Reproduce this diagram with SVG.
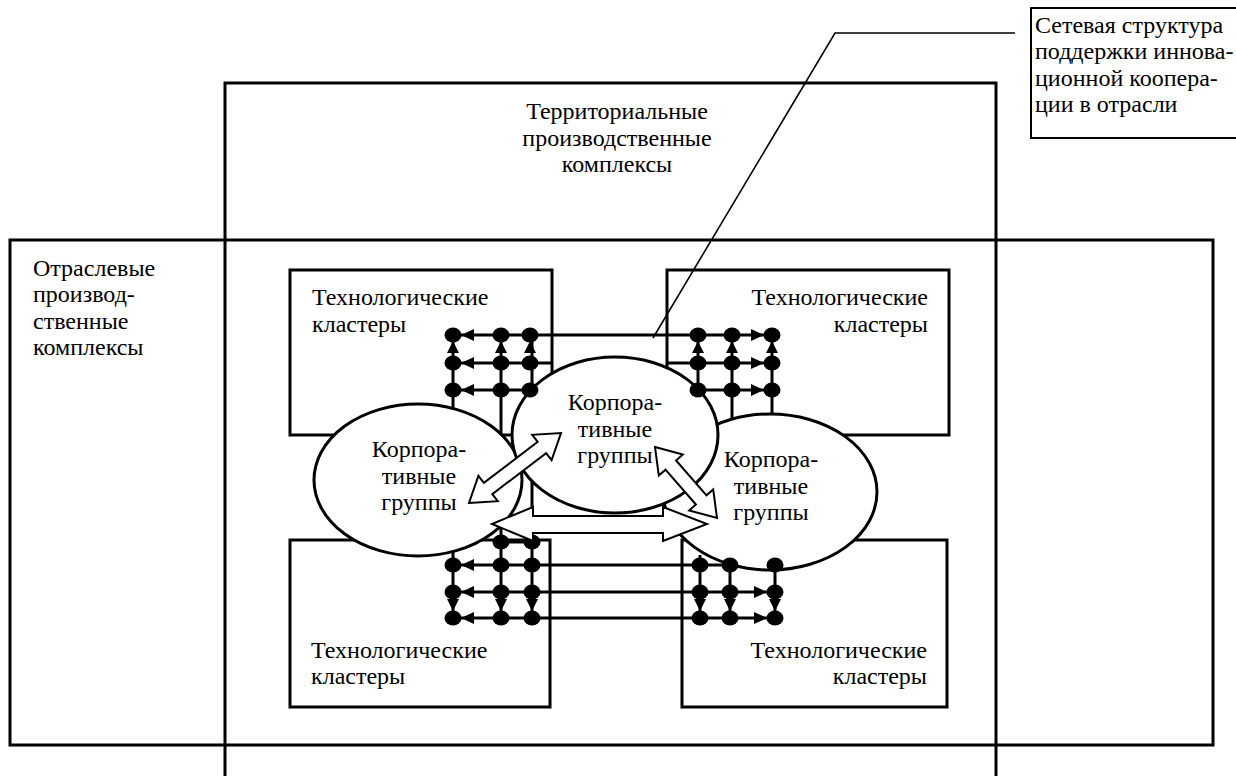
<svg xmlns="http://www.w3.org/2000/svg" width="1236" height="776" viewBox="0 0 1236 776">
<style>
.frame{fill:none;stroke:#000;stroke-width:3}
.clus{fill:none;stroke:#000;stroke-width:3}
.net{fill:none;stroke:#000;stroke-width:3}
.dot{fill:#000}
.ah{fill:#000}
.grp{fill:#fff;stroke:#000;stroke-width:3}
.dbl{fill:#fff;stroke:#000;stroke-width:2;stroke-linejoin:miter}
.lead{fill:none;stroke:#000;stroke-width:1.6}
.box{fill:#fff;stroke:#000;stroke-width:2}
text{font-family:"Liberation Serif","Times New Roman",serif;font-size:24px;fill:#000}
.c{text-anchor:middle}
.r{text-anchor:end}
</style>
<rect width="1236" height="776" fill="#fff"/>

<g id="territorial">
<path class="frame" d="M225,780 V83 H996 V780"/>
<text class="c" x="617" y="119">Территориальные</text>
<text class="c" x="617" y="146">производственные</text>
<text class="c" x="617" y="172">комплексы</text>
</g>

<g id="sectoral">
<rect class="frame" x="10" y="240" width="1203" height="505"/>
<text x="33" y="276">Отраслевые</text>
<text x="33" y="302">производ-</text>
<text x="33" y="329">ственные</text>
<text x="33" y="355">комплексы</text>
</g>

<g id="cluster-tl">
<rect class="clus" x="290" y="270" width="262" height="165"/>
<text x="312" y="305">Технологические</text>
<text x="312" y="332">кластеры</text>
</g>
<g id="cluster-tr">
<rect class="clus" x="667" y="270" width="282" height="165"/>
<text class="r" x="928" y="305">Технологические</text>
<text class="r" x="928" y="332">кластеры</text>
</g>
<g id="cluster-bl">
<rect class="clus" x="290" y="540" width="260" height="167"/>
<text x="311" y="658">Технологические</text>
<text x="311" y="684">кластеры</text>
</g>
<g id="cluster-br">
<rect class="clus" x="682" y="540" width="265" height="167"/>
<text class="r" x="927" y="658">Технологические</text>
<text class="r" x="927" y="684">кластеры</text>
</g>

<g id="connectors">
<path class="net" d="M453,335 H772 M453,363 H552 M453,390 H530 M667,363 H772 M698,390 H772
M453,335 V430 M501,335 V450 M532,335 V618 M698,335 V420 M732,335 V430 M772,335 V430
M664,440 V516
M453,565 H775 M453,592 H775 M453,618 H775
M453,545 V618 M501,520 V618 M501,542 H532
M700,555 V618 M730,555 V618 M775,555 V618"/>
</g>

<g id="group-left">
<ellipse class="grp" cx="418" cy="480" rx="104" ry="76"/>
<text class="c" x="419" y="457">Корпора-</text>
<text class="c" x="419" y="484">тивные</text>
<text class="c" x="419" y="510">группы</text>
</g>
<g id="group-right">
<ellipse class="grp" cx="770" cy="492" rx="107" ry="78"/>
<text class="c" x="771" y="467">Корпора-</text>
<text class="c" x="771" y="494">тивные</text>
<text class="c" x="771" y="520">группы</text>
</g>
<g id="group-center">
<ellipse class="grp" cx="615" cy="435" rx="103" ry="78"/>
<text class="c" x="615" y="410">Корпора-</text>
<text class="c" x="615" y="437">тивные</text>
<text class="c" x="615" y="463">группы</text>
</g>

<g id="network-nodes">
<g class="dot">
<ellipse cx="453" cy="335" rx="8.5" ry="7.5"/><ellipse cx="501" cy="335" rx="8.5" ry="7.5"/><ellipse cx="530" cy="335" rx="8.5" ry="7.5"/>
<ellipse cx="453" cy="363" rx="8.5" ry="7.5"/><ellipse cx="501" cy="363" rx="8.5" ry="7.5"/><ellipse cx="530" cy="363" rx="8.5" ry="7.5"/>
<ellipse cx="453" cy="390" rx="8.5" ry="7.5"/><ellipse cx="501" cy="390" rx="8.5" ry="7.5"/><ellipse cx="530" cy="390" rx="8.5" ry="7.5"/>
<ellipse cx="698" cy="335" rx="8.5" ry="7.5"/><ellipse cx="732" cy="335" rx="8.5" ry="7.5"/><ellipse cx="772" cy="335" rx="8.5" ry="7.5"/>
<ellipse cx="698" cy="363" rx="8.5" ry="7.5"/><ellipse cx="732" cy="363" rx="8.5" ry="7.5"/><ellipse cx="772" cy="363" rx="8.5" ry="7.5"/>
<ellipse cx="698" cy="390" rx="8.5" ry="7.5"/><ellipse cx="732" cy="390" rx="8.5" ry="7.5"/><ellipse cx="772" cy="390" rx="8.5" ry="7.5"/>
<ellipse cx="501" cy="542" rx="8.5" ry="7.5"/><ellipse cx="532" cy="542" rx="8.5" ry="7.5"/>
<ellipse cx="453" cy="565" rx="8.5" ry="7.5"/><ellipse cx="501" cy="565" rx="8.5" ry="7.5"/><ellipse cx="532" cy="565" rx="8.5" ry="7.5"/>
<ellipse cx="453" cy="592" rx="8.5" ry="7.5"/><ellipse cx="501" cy="592" rx="8.5" ry="7.5"/><ellipse cx="532" cy="592" rx="8.5" ry="7.5"/>
<ellipse cx="453" cy="618" rx="8.5" ry="7.5"/><ellipse cx="501" cy="618" rx="8.5" ry="7.5"/><ellipse cx="532" cy="618" rx="8.5" ry="7.5"/>
<ellipse cx="700" cy="565" rx="8.5" ry="7.5"/><ellipse cx="730" cy="565" rx="8.5" ry="7.5"/><ellipse cx="775" cy="565" rx="8.5" ry="7.5"/>
<ellipse cx="700" cy="592" rx="8.5" ry="7.5"/><ellipse cx="730" cy="592" rx="8.5" ry="7.5"/><ellipse cx="775" cy="592" rx="8.5" ry="7.5"/>
<ellipse cx="700" cy="618" rx="8.5" ry="7.5"/><ellipse cx="730" cy="618" rx="8.5" ry="7.5"/><ellipse cx="775" cy="618" rx="8.5" ry="7.5"/>
</g>
<path class="ah" d="M461,335 L474,329 L474,341 Z M461,363 L474,357 L474,369 Z M461,390 L474,384 L474,396 Z
M453,341 L447,353 L459,353 Z M501,341 L495,353 L507,353 Z M530,341 L524,353 L536,353 Z
M764,335 L751,329 L751,341 Z M764,363 L751,357 L751,369 Z M764,390 L751,384 L751,396 Z
M698,341 L692,353 L704,353 Z M732,341 L726,353 L738,353 Z M772,341 L766,353 L778,353 Z
M461,565 L474,559 L474,571 Z M461,592 L474,586 L474,598 Z M461,618 L474,612 L474,624 Z
M453,611 L447,599 L459,599 Z M501,611 L495,599 L507,599 Z M532,611 L526,599 L538,599 Z
M767,592 L754,586 L754,598 Z M767,618 L754,612 L754,624 Z
M700,611 L694,599 L706,599 Z M730,611 L724,599 L736,599 Z M775,611 L769,599 L781,599 Z"/>
</g>

<g id="arrows">
<polygon class="dbl" points="469,503 497.8,501.2 492.3,494.1 546.1,453.1 551.6,460.2 561,433 532.2,434.8 537.7,441.9 483.9,482.9 478.4,475.8"/>
<polygon class="dbl" points="655,447 682.8,454.6 676.1,460.5 706.5,495.3 713.2,489.4 717,518 689.2,510.4 695.9,504.5 665.5,469.7 658.8,475.6"/>
<polygon class="dbl" points="492,524 533,507 533,516 663,516 663,507 707,524 663,541 663,533 533,533 533,541"/>
</g>

<g id="callout">
<path class="lead" d="M653,338 L835,33 H1015"/>
<rect class="box" x="1031" y="8" width="208" height="130"/>
<text x="1035" y="33">Сетевая структура</text>
<text x="1035" y="59">поддержки иннова-</text>
<text x="1035" y="86">ционной коопера-</text>
<text x="1035" y="112">ции в отрасли</text>
</g>
</svg>
